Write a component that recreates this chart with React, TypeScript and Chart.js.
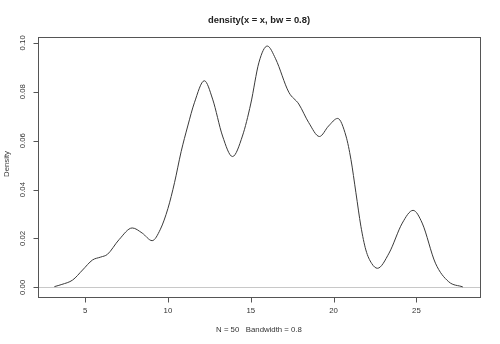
import React, { useEffect, useRef } from "react";
import { Chart, registerables } from "chart.js";

Chart.register(...registerables);

const densityX: number[] = [
  3.15, 3.6, 4.25, 4.85, 5.45, 5.95, 6.35, 7.05, 7.85, 8.45, 9.05, 9.55, 10.0,
  10.4, 10.8, 11.2, 11.6, 12.2, 12.7, 13.3, 13.9, 14.5, 15.0, 15.5, 16.0, 16.5,
  17.3, 17.9, 18.5, 19.15, 19.7, 20.25, 20.75, 21.05, 21.35, 21.65, 21.95, 22.3,
  22.65, 23.35, 24.15, 24.8, 25.35, 26.15, 26.95, 27.8,
];
const densityY: number[] = [
  0.0003, 0.0012, 0.003, 0.0071, 0.0112, 0.0124, 0.0135, 0.0195, 0.0243,
  0.0222, 0.0191, 0.0238, 0.0322, 0.0428, 0.0555, 0.066, 0.0755, 0.0845, 0.077,
  0.0619, 0.0535, 0.0619, 0.075, 0.0921, 0.0987, 0.0935, 0.0798, 0.075, 0.0674,
  0.0617, 0.066, 0.0691, 0.0619, 0.0523, 0.0387, 0.025, 0.0153, 0.0098, 0.0078,
  0.014, 0.0263, 0.0315, 0.0263, 0.0099, 0.0023, 0.0002,
];
const xTicks: number[] = [5, 10, 15, 20, 25];
const yTicks: number[] = [0, 0.02, 0.04, 0.06, 0.08, 0.1];
const yTickLabels: string[] = ["0.00", "0.02", "0.04", "0.06", "0.08", "0.10"];
const titleText = "density(x = x, bw = 0.8)";
const xLabelText = "N = 50   Bandwidth = 0.8";
const yLabelText = "Density";

const FONT = "'Liberation Sans', Arial, sans-serif";

const rPlotPlugin = {
  id: "rPlot",
  beforeDatasetsDraw(chart: any) {
    const { ctx, chartArea, scales } = chart;
    const ys = scales.y;
    ctx.save();
    const y0 = Math.round(ys.getPixelForValue(0)) + 0.5;
    ctx.strokeStyle = "#c8c8c8";
    ctx.lineWidth = 1;
    ctx.beginPath();
    ctx.moveTo(chartArea.left, y0);
    ctx.lineTo(chartArea.right, y0);
    ctx.stroke();
    ctx.restore();
  },
  afterDraw(chart: any) {
    const { ctx, chartArea, scales } = chart;
    const xs = scales.x;
    const ys = scales.y;
    const L = chartArea.left, R = chartArea.right, T = chartArea.top, B = chartArea.bottom;
    ctx.save();
    ctx.strokeStyle = "#555";
    ctx.lineWidth = 1;
    ctx.strokeRect(Math.round(L) + 0.5, Math.round(T) + 0.5, Math.round(R - L), Math.round(B - T));
    ctx.beginPath();
    xTicks.forEach((v) => {
      const px = Math.round(xs.getPixelForValue(v)) + 0.5;
      ctx.moveTo(px, Math.round(B) + 0.5);
      ctx.lineTo(px, Math.round(B) + 5.5);
    });
    yTicks.forEach((v) => {
      const py = Math.round(ys.getPixelForValue(v)) + 0.5;
      ctx.moveTo(Math.round(L) + 0.5, py);
      ctx.lineTo(Math.round(L) - 4.5, py);
    });
    ctx.stroke();

    ctx.fillStyle = "#333";
    ctx.font = `7.8px ${FONT}`;
    ctx.textAlign = "center";
    ctx.textBaseline = "middle";
    xTicks.forEach((v) => {
      ctx.fillText(String(v), xs.getPixelForValue(v), 311);
    });
    yTicks.forEach((v, i) => {
      ctx.save();
      ctx.translate(23, ys.getPixelForValue(v));
      ctx.rotate(-Math.PI / 2);
      ctx.fillText(yTickLabels[i], 0, 0);
      ctx.restore();
    });
    ctx.fillText(xLabelText, (L + R) / 2, 330);
    ctx.save();
    ctx.translate(6.5, (T + B) / 2 - 3);
    ctx.rotate(-Math.PI / 2);
    ctx.fillText(yLabelText, 0, 0);
    ctx.restore();
    ctx.font = `bold 9.4px ${FONT}`;
    ctx.fillStyle = "#222";
    ctx.fillText(titleText, (L + R) / 2, 20);
    ctx.restore();
  },
};

export default function App() {
  const canvasRef = useRef<HTMLCanvasElement | null>(null);

  useEffect(() => {
    document.body.style.margin = "0";
    const canvas = canvasRef.current;
    if (!canvas) return;
    const chart = new Chart(canvas, {
      type: "line",
      data: {
        datasets: [
          {
            data: densityX.map((x, i) => ({ x, y: densityY[i] })),
            borderColor: "#3a3a3a",
            borderWidth: 1,
            pointRadius: 0,
            fill: false,
            cubicInterpolationMode: "monotone",
          },
        ],
      },
      options: {
        responsive: false,
        animation: false,
        devicePixelRatio: 1,
        layout: { padding: { left: 38, right: 20, top: 37, bottom: 47 } },
        plugins: {
          legend: { display: false },
          tooltip: { enabled: false },
          title: { display: false },
        },
        scales: {
          x: { type: "linear", display: false, min: 2.16, max: 28.84 },
          y: { type: "linear", display: false, min: -0.00394, max: 0.1024 },
        },
      },
      plugins: [rPlotPlugin],
    });
    return () => chart.destroy();
  }, []);

  return (
    <div style={{ width: 500, height: 344, background: "#fff" }}>
      <canvas ref={canvasRef} width={500} height={344} />
    </div>
  );
}
